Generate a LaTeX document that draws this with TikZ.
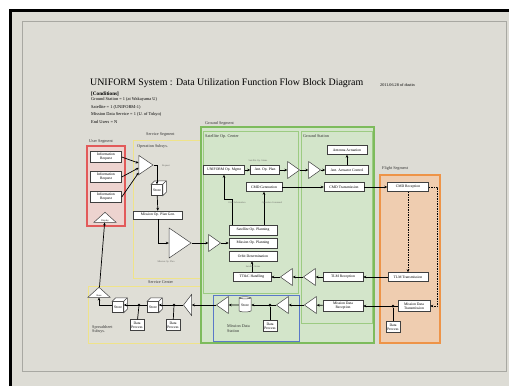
\documentclass[tikz,border=0pt]{standalone}
\usepackage{fontspec}
\setmainfont{Liberation Serif}
\usetikzlibrary{shapes.geometric,arrows.meta,calc}
\definecolor{bg}{HTML}{DDDCD5}
\definecolor{frameg}{HTML}{A8A8A2}
\definecolor{redline}{HTML}{E25A5A}
\definecolor{redfill}{HTML}{EDD3CF}
\definecolor{yelline}{HTML}{EFE38A}
\definecolor{yelfill}{HTML}{DFDED6}
\definecolor{grnline}{HTML}{7DBB5C}
\definecolor{grnline2}{HTML}{9CCB82}
\definecolor{grnfill}{HTML}{D3E5CA}
\definecolor{bluline}{HTML}{5A78C8}
\definecolor{orline}{HTML}{EE9448}
\definecolor{orfill}{HTML}{EFCDB0}
\definecolor{lblgray}{HTML}{6A6A66}
\newcommand{\boxfont}{\fontsize{3.7}{4.1}\selectfont}
\newcommand{\segfont}{\fontsize{4.2}{4.8}\selectfont}
\newcommand{\tinyfont}{\fontsize{2.4}{2.8}\selectfont}
\tikzset{
  blk/.style={draw=black!75, fill=white, line width=0.5, inner sep=0.6, minimum height=8, align=center, font=\boxfont},
  tri/.style={isosceles triangle, isosceles triangle stretches, draw=black!75, fill=white, line width=0.5, inner sep=0, minimum width=17, minimum height=12},
  trir/.style={tri},
  tril/.style={tri, shape border rotate=180},
  triu/.style={tri, shape border rotate=90, minimum width=22, minimum height=10, font=\tinyfont},
  cubebox/.style={draw=black!75, fill=white, line width=0.5, minimum width=11, minimum height=11, inner sep=0, font=\boxfont},
  jdot/.style={circle, fill=black, inner sep=0, minimum size=3},
  arr/.style={draw=black, line width=0.7, -{Stealth[length=3pt,width=2.6pt]}},
  ln/.style={draw=black, line width=0.7},
  seglbl/.style={font=\segfont, anchor=west, inner sep=0, text=black!80},
  tlbl/.style={font=\tinyfont, text=lblgray, inner sep=0}
}
\begin{document}
\begin{tikzpicture}[x=1pt,y=-1pt]
\useasboundingbox (0,0) rectangle (509,386);
\fill[white] (0,0) rectangle (509,386);
\fill[bg] (10,10) rectangle (509,386);
\draw[black, line width=3] (10,386) -- (10,10) -- (509,10);
\draw[frameg, line width=0.8] (22,21) rectangle (506,371);

% title and conditions
\node[anchor=west, inner sep=0, font=\fontsize{9.9}{10.5}\selectfont] (title) at (90,83) {UNIFORM System : Data Utilization Function Flow Block Diagram};
\node[anchor=west, inner sep=0, font=\fontsize{4.2}{5}\selectfont] (date) at (380,85) {2011.06.28 of dustin};
\node[anchor=west, inner sep=0, font=\bfseries\fontsize{5.2}{6}\selectfont] (cond) at (91,94) {[Conditions]};
\node[anchor=north west, inner sep=0, align=left, font=\fontsize{4.4}{7.6}\selectfont] (condtxt) at (91,97.5) {Ground Station = 1 (at Wakayama U)\\Satellite = 1 (UNIFORM-1)\\Mission Data Service = 1 (U. of Tokyo)\\End Users = N};

% segment regions
\draw[redline, fill=redfill, line width=1.2] (87,146) rectangle (125,226);
\node[seglbl] (usl) at (89,142) {User Segment};
\draw[yelline, fill=yelfill, line width=1] (133,140) rectangle (200,278);
\node[seglbl] (ssl) at (146,135) {Service Segment};
\node[seglbl] (osl) at (137,146) {Operation Subsys.};
\draw[yelline, fill=yelfill, line width=1] (88,286) rectangle (200,343);
\node[seglbl] (scl) at (148,282) {Service Center};
\node[seglbl, align=left, anchor=north west] (spl) at (92,325) {Spreadsheet\\Subsys.};
\draw[grnline, fill=grnfill, line width=1.5] (201,127) rectangle (374,343);
\node[seglbl] (gsl) at (205,123) {Ground Segment};
\draw[grnline2, line width=1] (203,131) rectangle (298,293);
\node[seglbl] (socl) at (205,136) {Satellite Op. Center};
\draw[grnline2, line width=1] (301,131) rectangle (372,323);
\node[seglbl] (gstl) at (303,136) {Ground Station};
\draw[bluline, line width=1] (213,295) rectangle (299,341);
\node[seglbl, align=left, anchor=north west] (mdsl) at (227,325) {Mission Data\\Station};
\draw[orline, fill=orfill, line width=1.5] (380,175) rectangle (440,343);
\node[seglbl] (fsl) at (382,168) {Flight Segment};

% user segment
\node[blk, minimum width=31, minimum height=11] (ir1) at (106,157) {Information\\Request};
\node[blk, minimum width=31, minimum height=11] (ir2) at (106,177) {Information\\Request};
\node[blk, minimum width=31, minimum height=11] (ir3) at (106,197) {Information\\Request};
\node[triu] (disp) at (105,218) {};
\node[font=\tinyfont, inner sep=0] (displ) at (105,220.5) {Display};

% operation subsystem
\node[trir, minimum width=19, minimum height=14] (m1) at (144,165) {};
\node[cubebox] (st1) at (157,190) {Store};
\node[blk, minimum width=49] (mopg) at (158,215) {Mission Op. Plan Gen.};
\node[trir, minimum width=30, minimum height=22] (bigtri) at (177,243) {};
\node[trir] (t2) at (213,243) {};

% satellite op center
\node[blk, minimum width=48, minimum height=10] (sop) at (253,230) {Satellite Op. Planning};
\node[blk, minimum width=48, minimum height=10] (mop) at (253,243) {Mission Op. Planning};
\node[blk, minimum width=48, minimum height=10] (od) at (253,256) {Orbit Determination};
\node[blk, minimum width=41, minimum height=9] (uom) at (224,170) {UNIFORM Op. Mgmt};
\node[blk, minimum width=29, minimum height=9] (aop) at (265,170) {Ant. Op. Plan};
\node[trir] (t3) at (292,170) {};
\node[blk, minimum width=36, minimum height=9] (cmdg) at (264,187) {CMD Generation};
\node[blk, minimum width=38, minimum height=9] (ttc) at (252,277) {TT\&C Handling};
\node[tril] (t6) at (288,277) {};

% ground station
\node[trir] (t4) at (313,170) {};
\node[blk, minimum width=43, minimum height=9] (aac) at (347,170) {Ant. Actuator Control};
\node[blk, minimum width=40, minimum height=9] (aa) at (347,150) {Antenna Actuation};
\node[blk, minimum width=40, minimum height=9] (cmdt) at (344,187) {CMD Transmission};
\node[blk, minimum width=40, minimum height=9] (tlmr) at (343,277) {TLM Reception};
\node[tril] (t5) at (311,277) {};
\node[blk, minimum width=40, minimum height=11] (mdr) at (343,306) {Mission Data\\Reception};
\node[tril] (t7) at (312,305) {};

% flight segment
\node[blk, minimum width=41, minimum height=9] (cmdr) at (408,187) {CMD Reception};
\node[blk, minimum width=40, minimum height=9] (tlmt) at (408,277) {TLM Transmission};
\node[blk, minimum width=32, minimum height=11] (mdt) at (414,306) {Mission Data\\Transmission};
\node[jdot] (j4) at (393,306) {};
\node[blk, minimum width=14, minimum height=11] (dp4) at (393,327) {Data\\Process};

% mission data station
\node[tril] (t8) at (284,305) {};
\node[jdot] (j3) at (270,305) {};
\node[blk, minimum width=14, minimum height=11] (dp3) at (270,326) {Data\\Process};
\node[cylinder, shape border rotate=90, aspect=0.25, draw=black!75, fill=white, line width=0.5, minimum width=12, minimum height=15, inner sep=0, font=\boxfont] (cyl) at (245,305) {Store};
\node[tril] (t9) at (224,305) {};

% service center
\node[tril, minimum width=21, minimum height=8] (t10) at (188,305) {};
\node[jdot] (j2) at (174,305) {};
\node[blk, minimum width=14, minimum height=11] (dp2) at (173,325) {Data\\Process};
\node[cubebox] (st3) at (153,307) {Store};
\node[jdot] (j1) at (139,305) {};
\node[blk, minimum width=14, minimum height=11] (dp1) at (137,325) {Data\\Process};
\node[cubebox] (st2) at (118,307) {Store};
\node[triu] (share) at (99,293) {};
\node[font=\tinyfont, inner sep=0] (sharel) at (99,295.5) {Share};

% cube tops
\foreach \n in {st1,st2,st3} {
  \draw[draw=black!75, fill=white, line width=0.5] (\n.north west) -- ++(3.5,-3.5) -- ($(\n.north east)+(3.5,-3.5)$) -- ($(\n.south east)+(3.5,-3.5)$) -- (\n.south east) -- (\n.north east) -- cycle;
  \draw[draw=black!75, line width=0.5] (\n.north east) -- ++(3.5,-3.5);
}

% connectors
\draw[arr] (ir1.east) -- (m1);
\draw[arr] (ir2.east) -- (m1);
\draw[arr] (ir3.east) -- (m1);
\draw[arr] (m1) -| (st1);
\draw[arr] (st1) -- (mopg);
\draw[arr] (mopg) |- (bigtri);
\draw[arr] (bigtri) -- (t2);
\draw[arr] (t2) -- (mop);
\draw[arr] ($(sop.north)+(-21,0)$) -- ++(0,-25) -| (uom.south);
\draw[arr] ($(sop.north)+(11,0)$) -- (cmdg.south);
\draw[arr] (uom) -- (aop);
\draw[arr] (aop) -- (t3);
\draw[arr] (t3) -- (t4);
\draw[arr] (t4) -- (aac);
\draw[arr] (aac) -- (aa);
\draw[arr] (cmdg) -- (cmdt);
\draw[arr] (cmdt) -- (cmdr);
\draw[arr, dashed, dash pattern=on 1.5pt off 1pt] (cmdr) -- (tlmt);
\draw[arr, dashed, dash pattern=on 1.5pt off 1pt] (cmdr.east) -- ++(9,0) |- (mdt.east);
\draw[arr] (tlmt) -- (tlmr);
\draw[arr] (tlmr) -- (t5);
\draw[arr] (t5) -- (t6);
\draw[arr] (t6) -- (ttc);
\draw[arr] (ttc.north) -- (ttc.north |- od.south);
\draw[arr] (mdt.west) -- (mdr.east);
\draw[ln] (j4) -- (dp4);
\draw[arr] (mdr) -- (t7);
\draw[arr] (t7) -- (t8);
\draw[arr] (t8) -- (cyl);
\draw[ln] (j3) -- (dp3);
\draw[arr] (cyl) -- (t9);
\draw[arr] (t9) -- (t10);
\draw[arr] (t10) -- (st3.east |- t10);
\draw[ln] (j2) -- (dp2);
\draw[arr] (st3.west |- j1) -- (st2.east |- j1);
\draw[ln] (j1) -- (dp1);
\draw[arr] (st2.west |- j1) -| (share);
\draw[arr] (share) -- (disp);

% small flow labels
\node[tlbl] (l1) at (258,161) {Satellite Op. Status};
\node[tlbl] (l2) at (237,203) {Orbit Information};
\node[tlbl] (l3) at (272,203) {Operation Command};
\node[tlbl] (l4) at (253,267) {Satellite Status};
\node[tlbl] (l5) at (166,166) {Request};
\node[tlbl] (l6) at (166,262) {Mission Op. Plan};
\end{tikzpicture}
\end{document}
